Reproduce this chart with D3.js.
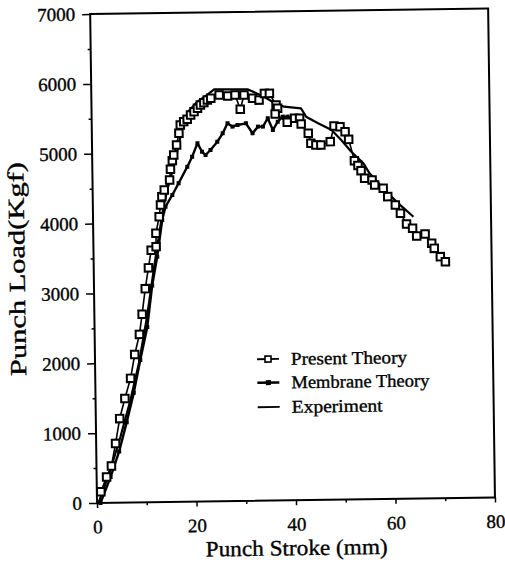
<!DOCTYPE html>
<html>
<head>
<meta charset="utf-8">
<script src="https://cdn.jsdelivr.net/npm/d3@7"></script>
<style>
  html, body { margin: 0; padding: 0; background: #fff; }
  svg { display: block; }
  svg text { font-family: "Liberation Serif", "Tinos", "Times New Roman", "DejaVu Serif", serif !important; fill: #000; stroke: #000; stroke-width: 0.35px; }
</style>
</head>
<body>
<svg id="chart" width="505" height="570"></svg>
<script>
// ---------- data ----------
const xMajorTicks = [0, 20, 40, 60, 80];
const xMinorTicks = [10, 30, 50, 70];
const yMajorTicks = [0, 1000, 2000, 3000, 4000, 5000, 6000, 7000];
const yMinorTicks = [500, 1500, 2500, 3500, 4500, 5500, 6500];

const xTitle = "Punch Stroke (mm)";
const yTitle = "Punch Load(Kgf)";
const seriesNames = ["Present Theory", "Membrane Theory", "Experiment"];

const presentX = [0.8, 2.0, 3.0, 3.9, 4.8, 5.9, 7.1, 8.0, 9.0, 9.6, 10.3, 11.0, 11.6, 12.6, 12.6, 13.3, 13.6, 13.9, 14.4, 15.5, 15.7, 16.1, 16.4, 17.0, 17.5, 17.8, 18.5, 19.2, 19.9, 20.6, 21.3, 21.9, 22.6, 23.3, 24.0, 25.7, 27.4, 28.9, 29.9, 30.7, 32.4, 33.7, 34.8, 35.8, 37.1, 37.4, 36.9, 39.3, 40.8, 41.8, 42.1, 43.5, 44.0, 45.0, 46.0, 47.9, 48.7, 49.9, 50.9, 51.6, 52.7, 53.4, 54.0, 54.7, 56.2, 56.7, 58.4, 59.3, 60.8, 61.8, 63.0, 64.2, 65.0, 66.7, 68.0, 68.5, 69.7, 70.7];
const presentY = [161, 370, 526, 849, 1204, 1491, 1778, 2118, 2405, 2693, 3058, 3356, 3607, 3657, 3849, 4085, 4253, 4372, 4466, 4609, 4762, 4885, 4966, 5108, 5276, 5394, 5441, 5475, 5535, 5582, 5630, 5676, 5709, 5746, 5770, 5816, 5800, 5812, 5607, 5810, 5762, 5735, 5830, 5829, 5661, 5614, 5532, 5412, 5467, 5466, 5384, 5250, 5106, 5080, 5079, 5125, 5348, 5337, 5265, 5155, 4848, 4778, 4704, 4594, 4569, 4496, 4448, 4327, 4206, 4086, 3932, 3869, 3758, 3785, 3651, 3578, 3457, 3384];

const membraneX = [0.7, 2.8, 4.6, 6.2, 7.7, 9.1, 10.6, 11.7, 12.8, 13.9, 14.6, 16.0, 17.3, 19.1, 20.1, 21.2, 22.1, 22.8, 23.8, 25.2, 26.3, 27.3, 28.3, 29.3, 31.0, 32.3, 33.4, 34.4, 35.4, 36.4, 37.4, 38.4, 39.4, 40.8, 42.1];
const membraneY = [0, 369, 734, 1151, 1569, 2038, 2508, 3100, 3514, 4038, 4227, 4394, 4560, 4796, 4938, 5129, 5008, 4959, 5030, 5148, 5267, 5409, 5360, 5383, 5405, 5261, 5355, 5354, 5473, 5304, 5422, 5493, 5492, 5443, 5489];

const experimentX = [0.3, 2.8, 4.9, 7.0, 8.8, 10.6, 12.1, 13.2, 14.2, 15.3, 16.4, 17.1, 17.8, 18.5, 19.5, 21.2, 23.3, 24.7, 27.4, 31.4, 33.4, 35.3, 36.4, 38.7, 42.1, 43.1, 45.5, 48.2, 50.1, 52.1, 54.5, 55.7, 58.7, 61.4, 64.4];
const experimentY = [0, 473, 943, 1464, 1987, 2665, 3345, 3815, 4233, 4546, 4807, 5015, 5224, 5433, 5589, 5718, 5821, 5898, 5895, 5891, 5827, 5756, 5709, 5635, 5609, 5488, 5391, 5292, 5147, 4978, 4808, 4664, 4422, 4229, 4034];

// ---------- layout ----------
const FONT = '"Liberation Serif", "Tinos", "Times New Roman", serif';
const svg = d3.select("#chart");
svg.append("rect").attr("width", 505).attr("height", 570).attr("fill", "#fff");

const L = 97, R = 495, T = 14, B = 503;
const x = d3.scaleLinear().domain([0, 80]).range([L, R]);
const y = d3.scaleLinear().domain([0, 7000]).range([B, T]);

// slight scan tilt
const g = svg.append("g").attr("transform", `rotate(-0.8,${L},${B})`);

// frame
g.append("rect")
  .attr("x", L).attr("y", T).attr("width", R - L).attr("height", B - T)
  .attr("fill", "none").attr("stroke", "#000").attr("stroke-width", 2);

// axes
const xAxis = d3.axisBottom(x).tickValues(xMajorTicks).tickSize(5).tickPadding(12).tickFormat(d3.format("d"));
const gx = g.append("g").attr("transform", `translate(0,${B})`).call(xAxis)
  .attr("font-family", FONT).attr("font-size", 19);
gx.select(".domain").remove();
gx.selectAll("line").attr("stroke", "#000").attr("stroke-width", 1.5);
gx.selectAll("text").style("font-family", FONT).style("font-size", "19px");

const xMinor = d3.axisBottom(x).tickValues(xMinorTicks).tickSize(3).tickFormat("");
const gxm = g.append("g").attr("transform", `translate(0,${B})`).call(xMinor);
gxm.select(".domain").remove();
gxm.selectAll("line").attr("stroke", "#000").attr("stroke-width", 1.5);

const yAxis = d3.axisLeft(y).tickValues(yMajorTicks).tickSize(8).tickPadding(7).tickFormat(d3.format("d"));
const gy = g.append("g").attr("transform", `translate(${L},0)`).call(yAxis)
  .attr("font-family", FONT).attr("font-size", 19);
gy.select(".domain").remove();
gy.selectAll("line").attr("stroke", "#000").attr("stroke-width", 1.5);
gy.selectAll("text").style("font-family", FONT).style("font-size", "19px");

const yMinor = d3.axisLeft(y).tickValues(yMinorTicks).tickSize(3).tickFormat("");
const gym = g.append("g").attr("transform", `translate(${L},0)`).call(yMinor);
gym.select(".domain").remove();
gym.selectAll("line").attr("stroke", "#000").attr("stroke-width", 1.5);

// titles
g.append("text")
  .attr("x", 296).attr("y", 558)
  .attr("text-anchor", "middle")
  .style("font-family", FONT).style("font-size", "22px")
  .attr("textLength", 182).attr("lengthAdjust", "spacingAndGlyphs")
  .text(xTitle);

g.append("text")
  .attr("transform", "translate(28,268) rotate(-90)")
  .attr("text-anchor", "middle")
  .style("font-family", FONT).style("font-size", "23px")
  .attr("textLength", 214).attr("lengthAdjust", "spacingAndGlyphs")
  .text(yTitle);

// series
const line = d3.line().x(d => x(d[0])).y(d => y(d[1]));
const present = presentX.map((v, i) => [v, presentY[i]]);
const membrane = membraneX.map((v, i) => [v, membraneY[i]]);
const experiment = experimentX.map((v, i) => [v, experimentY[i]]);

g.append("path").datum(experiment).attr("d", line)
  .attr("fill", "none").attr("stroke", "#000").attr("stroke-width", 2.2)
  .attr("stroke-linejoin", "round");

g.append("path").datum(membrane).attr("d", line)
  .attr("fill", "none").attr("stroke", "#000").attr("stroke-width", 2.4)
  .attr("stroke-linejoin", "round");
g.selectAll(".mdot").data(membrane).enter().append("rect")
  .attr("class", "mdot")
  .attr("x", d => x(d[0]) - 2).attr("y", d => y(d[1]) - 2)
  .attr("width", 4).attr("height", 4).attr("fill", "#000");

g.append("path").datum(present).attr("d", line)
  .attr("fill", "none").attr("stroke", "#000").attr("stroke-width", 1.6)
  .attr("stroke-linejoin", "round");
g.selectAll(".psq").data(present).enter().append("rect")
  .attr("class", "psq")
  .attr("x", d => x(d[0]) - 3.75).attr("y", d => y(d[1]) - 3.75)
  .attr("width", 7.5).attr("height", 7.5)
  .attr("fill", "#fff").attr("stroke", "#000").attr("stroke-width", 2);

// legend
const legRows = [
  { name: seriesNames[0], y: 361.5, len: 116, type: "present" },
  { name: seriesNames[1], y: 385, len: 138, type: "membrane" },
  { name: seriesNames[2], y: 409.5, len: 91, type: "experiment" }
];
const lx0 = 259, lx1 = 281, ltx = 293;
legRows.forEach(r => {
  g.append("line").attr("x1", lx0).attr("x2", lx1).attr("y1", r.y).attr("y2", r.y)
    .attr("stroke", "#000").attr("stroke-width", r.type === "membrane" ? 2.4 : 1.8);
  if (r.type === "present") {
    g.append("rect").attr("x", (lx0 + lx1) / 2 - 3).attr("y", r.y - 3).attr("width", 6).attr("height", 6)
      .attr("fill", "#fff").attr("stroke", "#000").attr("stroke-width", 1.6);
  } else if (r.type === "membrane") {
    g.append("rect").attr("x", (lx0 + lx1) / 2 - 2.5).attr("y", r.y - 2.5).attr("width", 5).attr("height", 5)
      .attr("fill", "#000");
  }
  g.append("text").attr("x", ltx).attr("y", r.y + 6)
    .style("font-family", FONT).style("font-size", "18px")
    .attr("textLength", r.len).attr("lengthAdjust", "spacingAndGlyphs")
    .text(r.name);
});
</script>
</body>
</html>
